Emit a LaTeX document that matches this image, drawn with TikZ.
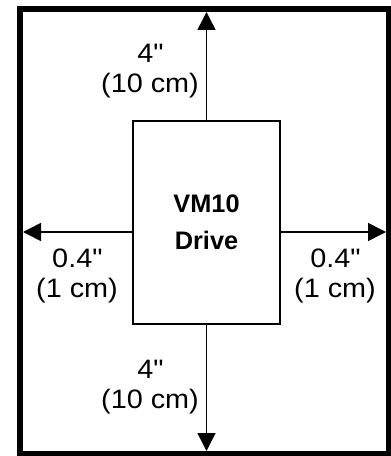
\documentclass[tikz,border=0pt]{standalone}
\usepackage{fontspec}
\setmainfont{Liberation Sans}
\newfontfamily\gapfont[FakeStretch=1.08]{Liberation Sans}
\usetikzlibrary{arrows.meta}

\begin{document}
\begin{tikzpicture}[
    x=0.75pt, y=-0.75pt,
    drivebox/.style={rectangle, draw, line width=1.1pt, minimum width=110pt, minimum height=152pt, align=center, font=\fontsize{19}{27.5}\selectfont\bfseries},
    dim/.style={-{Triangle[length=13.5pt, width=13.5pt]}, line width=1.1pt},
    gap/.style={align=center, font=\gapfont\fontsize{20}{22.5}\selectfont}
]
\useasboundingbox (0,0) rectangle (391,456);

% Enclosure
\draw[line width=4.5pt] (20,9) rectangle (389,454);

% Drive
\node[drivebox] (drive) at (206.5, 222.5) {VM10\\Drive};

% Arrow ends on the enclosure
\coordinate (top) at (206.5, 12);
\coordinate (bot) at (206.5, 451);
\coordinate (lft) at (23, 232);
\coordinate (rgt) at (386, 232);

% Clearances
\draw[dim] (drive.north) -- (top);
\draw[dim] (drive.south) -- (bot);
\draw[dim] (drive.west |- lft) -- (lft);
\draw[dim] (drive.east |- rgt) -- (rgt);

% Labels
\node[gap] (topgap) at (150, 71)  {4\textquotedbl\\(10 cm)};
\node[gap] (botgap) at (150, 387) {4\textquotedbl\\(10 cm)};
\node[gap] (lftgap) at (77, 276)  {0.4\textquotedbl\\(1 cm)};
\node[gap] (rgtgap) at (335, 276) {0.4\textquotedbl\\(1 cm)};

\end{tikzpicture}
\end{document}
